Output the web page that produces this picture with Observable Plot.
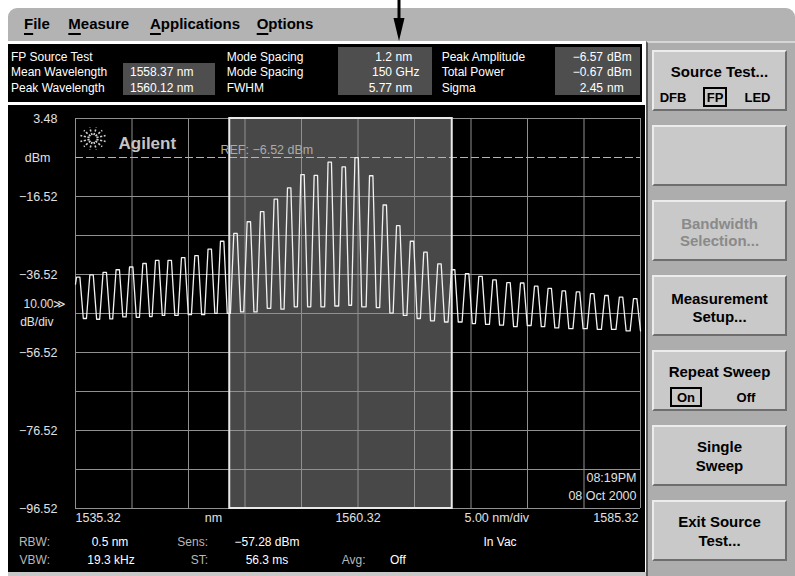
<!DOCTYPE html>
<html>
<head>
<meta charset="utf-8">
<script src="https://cdn.jsdelivr.net/npm/d3@7"></script>
<script src="https://cdn.jsdelivr.net/npm/@observablehq/plot@0.6"></script>
<style>
html,body{margin:0;padding:0;}
body{width:795px;height:576px;position:relative;overflow:hidden;background:#fff;font-family:"Liberation Sans",Arial,sans-serif;}
.a{position:absolute;white-space:nowrap;}
.box{position:absolute;}
.btn{position:absolute;left:652px;width:135px;height:61px;box-sizing:border-box;background:#c9c9c9;border-top:2px solid #ececec;border-left:2px solid #ececec;border-bottom:2px solid #6e6e6e;border-right:2px solid #6e6e6e;}
.u{text-decoration:underline;text-decoration-thickness:2px;text-underline-offset:4px;}
</style>
</head>
<body>
<div class="box" style="left:8px;top:8px;width:787px;height:33px;background:#b3b3b3;border-radius:9px 9px 0 0;"></div>
<div class="box" style="left:646px;top:41px;width:149px;height:535px;background:#adadad;border-top:2px solid #d6d6d6;border-left:2px solid #5a5a5a;box-sizing:border-box;"></div>
<div class="box" style="left:8px;top:41px;width:637px;height:531px;background:#000;"></div>
<div class="box" style="left:8px;top:41px;width:637px;height:64px;box-sizing:border-box;border-top:3px solid #fff;border-right:3px solid #fff;border-bottom:3px solid #fff;"></div>
<div class="box" style="left:8px;top:572px;width:638px;height:4px;background:#c8c8c8;"></div>
<div class="box" style="left:123px;top:63px;width:92px;height:32px;background:#4e4e4e;"></div>
<div class="box" style="left:338px;top:47px;width:94px;height:48px;background:#4e4e4e;"></div>
<div class="box" style="left:555px;top:47px;width:85px;height:48px;background:#4e4e4e;"></div>
<div class="btn" style="top:50px"></div>
<div class="btn" style="top:125px"></div>
<div class="btn" style="top:200px"></div>
<div class="btn" style="top:275px"></div>
<div class="btn" style="top:350px"></div>
<div class="btn" style="top:425px"></div>
<div class="btn" style="top:500px"></div>
<div class="box" style="left:703px;top:87px;width:24px;height:20px;box-sizing:border-box;border:2px solid #000;"></div>
<div class="box" style="left:670px;top:387px;width:32px;height:20px;box-sizing:border-box;border:2px solid #000;"></div>
<div id="chart" class="box" style="left:8px;top:107px;"></div>
<svg class="box" style="left:0;top:0;overflow:visible" width="795" height="576">
  <line x1="399" y1="0" x2="399" y2="24" stroke="#000" stroke-width="3"/>
  <polygon points="393.5,18 404.5,18 399,41" fill="#000"/>
  <g id="spark" stroke="#cfcfcf" stroke-width="1.6" stroke-dasharray="2.2 1.6"></g>
</svg>
<script>
// ---------- chart data ----------
const xStart = 1535.32, xEnd = 1585.32;
const yTop = 3.48, yBottom = -96.52;
const refLevel = -6.52;
const gridX = [1535.32,1540.32,1545.32,1550.32,1555.32,1560.32,1565.32,1570.32,1575.32,1580.32,1585.32];
const gridY = [3.48,-16.52,-26.52,-36.52,-46.52,-56.52,-66.52,-76.52,-86.52,-96.52];
const yTicks = [3.48,-16.52,-36.52,-56.52,-76.52,-96.52];
const xTickLabels = ["1535.32","1560.32","1585.32"];
const bandStart = 1548.97, bandEnd = 1568.66;

// FP laser modes: peak wavelength (nm) and peak level (dBm)
const modeWl = [1535.56,1536.74,1537.91,1539.06,1540.25,1541.43,1542.55,1543.66,1544.85,1546.03,
  1547.20,1548.30,1549.48,1550.66,1551.84,1553.05,1554.23,1555.41,1556.59,1557.82,
  1559.06,1560.20,1561.49,1562.69,1563.88,1565.10,1566.29,1567.53,1568.74,1569.98,
  1571.16,1572.40,1573.64,1574.85,1576.09,1577.29,1578.53,1579.79,1581.05,1582.31,
  1583.60,1584.85];
const modePeak = [-37.2,-36.6,-36.0,-35.3,-34.6,-33.7,-32.9,-32.9,-32.2,-31.7,
  -30.0,-28.0,-26.0,-23.0,-20.4,-17.2,-14.3,-10.9,-11.1,-7.7,
  -8.9,-6.55,-11.2,-18.7,-24.0,-28.0,-30.8,-33.8,-35.3,-36.3,
  -37.0,-37.9,-38.6,-38.7,-39.5,-40.1,-40.7,-41.0,-41.4,-41.9,
  -42.3,-42.7];
// level of the dip between consecutive modes (dBm)
const troughLevel = [-47.8,-48.0,-47.9,-47.4,-47.5,-47.3,-47.0,-47.0,-46.8,-46.8,
  -46.5,-46.5,-46.1,-46.1,-45.2,-45.4,-44.8,-44.8,-44.8,-44.6,
  -44.4,-44.8,-45.0,-46.4,-47.0,-47.8,-48.4,-48.7,-48.7,-49.1,
  -49.3,-49.5,-49.9,-49.6,-49.9,-50.2,-50.4,-50.4,-50.6,-50.6,
  -51.0];
const traceStartLevel = -39.0, traceEndLevel = -51.0;

// ---------- panel text data ----------
const infoCol1 = ["FP Source Test","Mean Wavelength","Peak Wavelength"];
const infoCol1Val = ["1558.37 nm","1560.12 nm"];
const infoCol2 = ["Mode Spacing","Mode Spacing","FWHM"];
const infoCol2Num = ["1.2","150","5.77"], infoCol2Unit = ["nm","GHz","nm"];
const infoCol3 = ["Peak Amplitude","Total Power","Sigma"];
const infoCol3Num = ["\u22126.57","\u22120.67","2.45"], infoCol3Unit = ["dBm","dBm","nm"];
const menuItems = ["File","Measure","Applications","Options"];

// ---------- build the trace from the mode readings ----------
const trace = [{x: xStart, y: traceStartLevel}];
modeWl.forEach((w, i) => {
  trace.push({x: w - 0.15, y: modePeak[i]}, {x: w + 0.15, y: modePeak[i]});
  if (i < troughLevel.length) {
    trace.push({x: w + 0.45, y: troughLevel[i]}, {x: modeWl[i + 1] - 0.45, y: troughLevel[i]});
  }
});
trace.push({x: xEnd, y: traceEndLevel});

const fmt = d => d.toFixed(2).replace("-", "\u2212");
const F = '"Liberation Sans", Arial, sans-serif';

const chart = Plot.plot({
  width: 637, height: 465,
  marginLeft: 67, marginRight: 5, marginTop: 11, marginBottom: 64,
  style: {background: "#000", color: "#e0e0e0", fontFamily: F, fontSize: "12.5px", overflow: "visible"},
  x: {domain: [xStart, xEnd], axis: null},
  y: {domain: [yBottom, yTop], axis: null},
  marks: [
    Plot.rect([{a: bandStart, b: bandEnd}], {x1: "a", x2: "b", y1: () => yBottom, y2: () => yTop, fill: "#484848"}),
    Plot.ruleX(gridX, {stroke: "#909090", strokeWidth: 1}),
    Plot.ruleY(gridY, {stroke: "#909090", strokeWidth: 1}),
    Plot.ruleY([refLevel], {stroke: "#b4b4b4", strokeDasharray: "8,3"}),
    Plot.rect([{a: bandStart, b: bandEnd}], {x1: "a", x2: "b", y1: () => yBottom, y2: () => yTop, fill: "none", stroke: "#e8e8e8", strokeWidth: 2}),
    Plot.line(trace, {x: "x", y: "y", stroke: "#f2f2f2", strokeWidth: 1.3}),
    Plot.text(yTicks, {y: d => d, text: fmt, frameAnchor: "left", textAnchor: "end", dx: -18, fill: "#e0e0e0"}),
    Plot.text(["dBm"], {y: () => refLevel, text: d => d, frameAnchor: "left", textAnchor: "end", dx: -25, fill: "#e0e0e0"}),
    Plot.text(["10.00\u226B"], {y: () => -44.1, text: d => d, frameAnchor: "left", textAnchor: "end", dx: -9, fill: "#e0e0e0", fontSize: 12}),
    Plot.text(["dB/div"], {y: () => -48.8, text: d => d, frameAnchor: "left", textAnchor: "end", dx: -22, fill: "#e0e0e0", fontSize: 12}),
    Plot.text([xTickLabels[0]], {x: () => xStart, text: d => d, frameAnchor: "bottom", textAnchor: "start", dy: 13.5, fill: "#e0e0e0"}),
    Plot.text([xTickLabels[1]], {x: () => (xStart + xEnd) / 2, text: d => d, frameAnchor: "bottom", textAnchor: "middle", dy: 13.5, fill: "#e0e0e0"}),
    Plot.text([xTickLabels[2]], {x: () => xEnd, text: d => d, frameAnchor: "bottom", textAnchor: "end", dx: -2, dy: 13.5, fill: "#e0e0e0"}),
    Plot.text(["nm"], {x: () => 1547.53, text: d => d, frameAnchor: "bottom", textAnchor: "middle", dy: 13.5, fill: "#e0e0e0"}),
    Plot.text(["5.00 nm/div"], {x: () => 1572.6, text: d => d, frameAnchor: "bottom", textAnchor: "middle", dy: 13.5, fill: "#e0e0e0"}),
    Plot.text(["REF: \u22126.52 dBm"], {y: () => refLevel, text: d => d, frameAnchor: "left", textAnchor: "start", dx: 145, dy: -7.5, fill: "#ababab"}),
    Plot.text(["Agilent"], {text: d => d, frameAnchor: "top-left", textAnchor: "start", dx: 43, dy: 18, fill: "#c4c4c4", fontWeight: "bold", fontSize: 17}),
    Plot.text(["08:19PM"], {text: d => d, frameAnchor: "bottom-right", textAnchor: "end", dx: -4, dy: -26.5, fill: "#e0e0e0"}),
    Plot.text(["08 Oct 2000"], {text: d => d, frameAnchor: "bottom-right", textAnchor: "end", dx: -4, dy: -9, fill: "#e0e0e0"})
  ]
});
document.getElementById("chart").appendChild(chart);

// ---------- Agilent spark ----------
const sp = document.getElementById("spark");
for (let k = 0; k < 12; k++) {
  const t = k * Math.PI / 6 + Math.PI / 12;
  const l = document.createElementNS("http://www.w3.org/2000/svg", "line");
  const cx = 93, cy = 138.5;
  l.setAttribute("x1", cx + 3.5 * Math.cos(t)); l.setAttribute("y1", cy + 3.5 * Math.sin(t));
  l.setAttribute("x2", cx + 13 * Math.cos(t)); l.setAttribute("y2", cy + 11.5 * Math.sin(t));
  sp.appendChild(l);
}

// ---------- HTML text helper ----------
function T(txt, x, cy, o = {}) {
  const size = o.size || 12;
  const d = document.createElement("div");
  d.className = "a";
  d.style.fontSize = size + "px";
  d.style.lineHeight = size + "px";
  d.style.top = (cy - 0.49 * size) + "px";
  d.style.color = o.color || "#fff";
  if (o.weight) d.style.fontWeight = o.weight;
  if (o.anchor === "end") d.style.right = (795 - x) + "px";
  else if (o.anchor === "middle") { d.style.left = x + "px"; d.style.transform = "translateX(-50%)"; }
  else d.style.left = x + "px";
  if (o.html) d.innerHTML = txt; else d.textContent = txt;
  document.body.appendChild(d);
}

// menu
const menuX = [24, 68.3, 150, 256.7];
menuItems.forEach((m, i) => T('<span class="u">' + m[0] + '</span>' + m.slice(1), menuX[i], 23.8, {size: 15, weight: "bold", color: "#000", html: true}));

// info panel
const rowY = [56.7, 71.7, 87.4];
infoCol1.forEach((s, i) => T(s, 11, rowY[i]));
infoCol1Val.forEach((s, i) => T(s, 130, rowY[i + 1]));
infoCol2.forEach((s, i) => T(s, 226.7, rowY[i]));
infoCol2Num.forEach((s, i) => { T(s, 392, rowY[i], {anchor: "end"}); T(infoCol2Unit[i], 395.5, rowY[i]); });
infoCol3.forEach((s, i) => T(s, 441.7, rowY[i]));
infoCol3Num.forEach((s, i) => { T(s, 603, rowY[i], {anchor: "end"}); T(infoCol3Unit[i], 607, rowY[i]); });

// bottom status rows
const lab = "#b8b8b8";
T("RBW:", 50, 541.7, {anchor: "end", color: lab});
T("0.5 nm", 110, 541.7, {anchor: "middle"});
T("Sens:", 208, 541.7, {anchor: "end", color: lab});
T("\u221257.28 dBm", 267, 541.7, {anchor: "middle"});
T("In Vac", 500, 541.7, {anchor: "middle"});
T("VBW:", 50, 560, {anchor: "end", color: lab});
T("19.3 kHz", 111, 560, {anchor: "middle"});
T("ST:", 208, 560, {anchor: "end", color: lab});
T("56.3 ms", 267, 560, {anchor: "middle"});
T("Avg:", 341.7, 560, {color: lab});
T("Off", 390, 560);

// softkeys
const bc = 719.5, B = {size: 15, weight: "bold", color: "#000", anchor: "middle"};
T("Source Test...", bc, 71.7, B);
T("DFB", 673, 97, {...B, size: 13});
T("FP", 715, 97, {...B, size: 13});
T("LED", 757.5, 97, {...B, size: 13});
T("Bandwidth", bc, 223, {...B, color: "#8a8a8a"});
T("Selection...", bc, 240.5, {...B, color: "#8a8a8a"});
T("Measurement", bc, 298, B);
T("Setup...", bc, 316.5, B);
T("Repeat Sweep", bc, 371.7, B);
T("On", 686, 397, {...B, size: 13});
T("Off", 746, 397, {...B, size: 13});
T("Single", bc, 446.7, B);
T("Sweep", bc, 465, B);
T("Exit Source", bc, 521.7, B);
T("Test...", bc, 540, B);
</script>
</body>
</html>
